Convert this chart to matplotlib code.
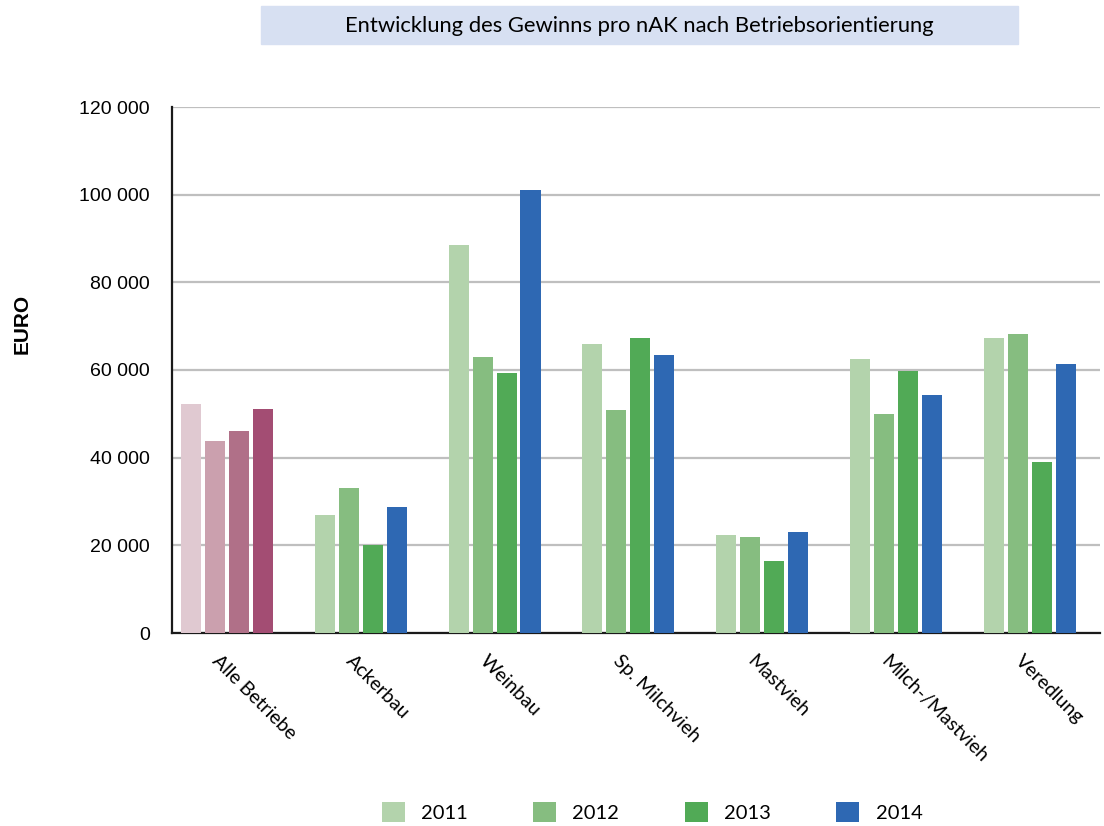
import matplotlib
matplotlib.use("Agg")
import matplotlib.pyplot as plt
from matplotlib.patches import Rectangle, Patch
from matplotlib.ticker import FuncFormatter
from matplotlib.transforms import ScaledTranslation
import numpy as np

categories = ["Alle Betriebe", "Ackerbau", "Weinbau", "Sp. Milchvieh",
              "Mastvieh", "Milch-/Mastvieh", "Veredlung"]
years = ["2011", "2012", "2013", "2014"]
v2011 = [52200, 27000, 88500, 66000, 22400, 62600, 67400]
v2012 = [43900, 33000, 62900, 50900, 21800, 50000, 68300]
v2013 = [46000, 20100, 59300, 67200, 16500, 59800, 39100]
v2014 = [51000, 28800, 101100, 63500, 23100, 54200, 61400]
series = [v2011, v2012, v2013, v2014]

green_colors = ["#b3d3ac", "#86bd80", "#51aa56", "#2e68b3"]
pink_colors = ["#e0c9d1", "#cba0ae", "#b07088", "#a34d73"]

label_font = "Lato"
num_font = "Liberation Sans"

fig = plt.figure(figsize=(11.04, 8.26), dpi=100)
ax = fig.add_axes([172 / 1104, 1 - 633 / 826, 928 / 1104, 526 / 826])

x = np.arange(len(categories))
step = 0.179
width = 0.15
for i, vals in enumerate(series):
    colors = [pink_colors[i]] + [green_colors[i]] * (len(categories) - 1)
    ax.bar(x + (i - 1.5) * step, vals, width=width, color=colors, zorder=3)

ax.set_xlim(-0.411, 6.525)
ax.set_ylim(0, 120000)
ax.set_yticks(np.arange(0, 120001, 20000))
ax.yaxis.set_major_formatter(FuncFormatter(lambda v, p: f"{int(v):,}".replace(",", " ")))
ax.grid(axis="y", color="#bfbfbf", linewidth=1.6, zorder=0)
ax.tick_params(axis="y", length=0, pad=16, labelsize=14)
for lab in ax.get_yticklabels():
    lab.set_fontfamily(num_font)

ax.set_xticks(x)
ax.set_xticklabels(categories, rotation=-45, ha="left", va="top",
                   rotation_mode="anchor", fontsize=14, fontfamily=label_font)
ax.tick_params(axis="x", length=0, pad=14)
shift = ScaledTranslation(-6 / 100, 0, fig.dpi_scale_trans)
for lab in ax.get_xticklabels():
    lab.set_transform(lab.get_transform() + shift)

for side in ["top", "right"]:
    ax.spines[side].set_visible(False)
for side in ["left", "bottom"]:
    ax.spines[side].set_linewidth(1.6)
    ax.spines[side].set_color("#1a1a1a")

fig.text(22 / 1104, 1 - 324 / 826, "EURO", rotation=90, ha="center", va="center",
         fontsize=15, fontweight="bold", fontfamily=num_font)

# title box
fig.patches.append(Rectangle((261 / 1104, 1 - 44 / 826), 757 / 1104, 38 / 826,
                             transform=fig.transFigure, color="#d7e0f2", zorder=0))
fig.text(639.5 / 1104, 1 - 26 / 826, "Entwicklung des Gewinns pro nAK nach Betriebsorientierung",
         ha="center", va="center", fontsize=15.8, fontfamily=label_font)

handles = [Patch(facecolor=c, edgecolor="none") for c in green_colors]
fig.legend(handles, years, loc="center", bbox_to_anchor=(652 / 1104, 1 - 812 / 826),
           ncol=4, frameon=False, prop={"family": label_font, "size": 14.5},
           handlelength=1.15, handleheight=1.15, handletextpad=0.8, columnspacing=3.25)

fig.savefig("out.png", dpi=100)
